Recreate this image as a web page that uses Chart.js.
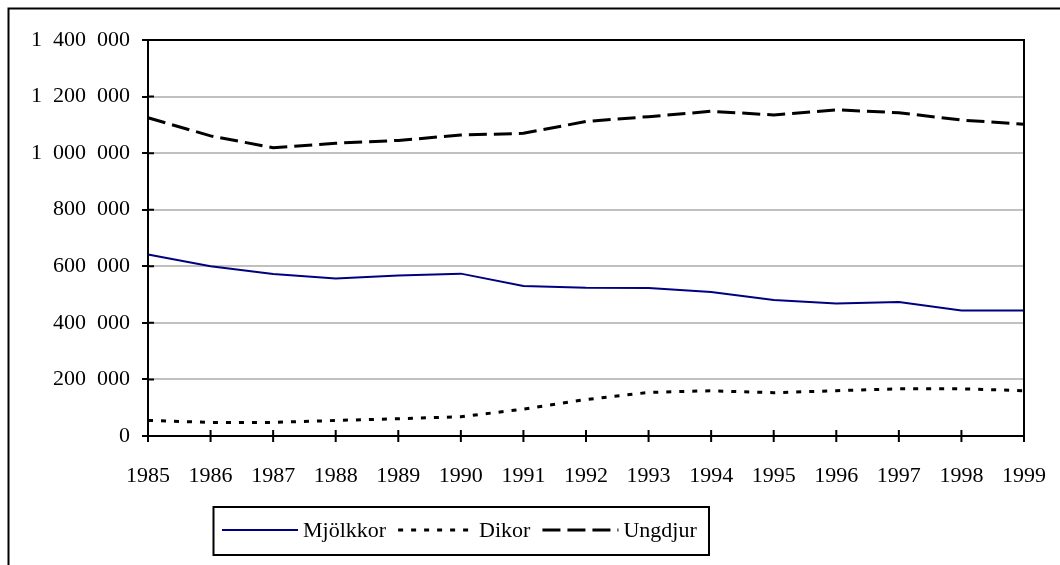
<!DOCTYPE html>
<html>
<head>
<meta charset="utf-8">
<script src="https://cdn.jsdelivr.net/npm/chart.js@4/dist/chart.umd.min.js"></script>
<style>
  html, body { margin: 0; padding: 0; background: #fff; }
  #wrap { width: 1060px; height: 565px; }
</style>
</head>
<body>
<div id="wrap"><canvas id="cattle" width="1060" height="565"></canvas></div>
<script>
const years = ['1985', '1986', '1987', '1988', '1989', '1990', '1991', '1992', '1993', '1994', '1995', '1996', '1997', '1998', '1999'];
const mjolkkor = [642000, 600000, 573000, 557000, 567000, 574000, 530000, 524000, 523000, 509000, 481000, 468000, 474000, 444000, 444000];
const dikor = [55000, 48000, 48000, 55000, 61000, 68000, 95000, 129000, 154000, 160000, 153000, 160000, 167000, 167000, 160000];
const ungdjur = [1125000, 1061000, 1019000, 1035000, 1045000, 1064000, 1070000, 1112000, 1129000, 1148000, 1135000, 1153000, 1143000, 1117000, 1102000];
const yMax = 1400000;
const yStep = 200000;

const serif = 'Liberation Serif, Times New Roman, serif';

// thousands separated by a figure space, as in the original
function spaced(v) {
  return String(v).replace(/\B(?=(\d{3})+(?!\d))/g, '\u2007');
}

// frame, crossing tick marks, outer border and the boxed legend
const frame = {
  id: 'frame',
  beforeDraw(chart) {
    const ctx = chart.ctx;
    ctx.save();
    ctx.fillStyle = '#fff';
    ctx.fillRect(0, 0, chart.width, chart.height);
    ctx.restore();
  },
  afterDraw(chart) {
    const { ctx, chartArea: a, scales: { x, y } } = chart;
    ctx.save();
    ctx.strokeStyle = '#000';
    ctx.lineWidth = 2;
    ctx.setLineDash([]);
    ctx.strokeRect(a.left, a.top, a.right - a.left, a.bottom - a.top);

    ctx.beginPath();
    x.ticks.forEach((t, i) => {
      const px = x.getPixelForTick(i);
      ctx.moveTo(px, a.bottom + 6);
      ctx.lineTo(px, a.bottom - 6);
    });
    y.ticks.forEach((t, i) => {
      const py = y.getPixelForTick(i);
      ctx.moveTo(a.left, py);
      ctx.lineTo(a.left + 6, py);
    });
    ctx.stroke();

    // outer chart border (runs off the right and bottom)
    ctx.beginPath();
    ctx.moveTo(8.5, chart.height);
    ctx.lineTo(8.5, 8.5);
    ctx.lineTo(chart.width, 8.5);
    ctx.stroke();

    // legend
    ctx.strokeRect(213.5, 507, 495.5, 48);
    ctx.font = '22px ' + serif;
    ctx.textBaseline = 'middle';
    ctx.fillStyle = '#000';
    let lx = 222;
    const ly = 530;
    chart.data.datasets.forEach(ds => {
      ctx.beginPath();
      ctx.strokeStyle = ds.borderColor;
      ctx.lineWidth = ds.borderWidth;
      ctx.setLineDash(ds.borderDash || []);
      ctx.moveTo(lx, ly);
      ctx.lineTo(lx + 76, ly);
      ctx.stroke();
      lx += 81;
      ctx.fillText(ds.label, lx, ly + 1);
      lx += ctx.measureText(ds.label).width + 12;
    });
    ctx.restore();
  }
};

new Chart(document.getElementById('cattle'), {
  type: 'line',
  data: {
    labels: years,
    datasets: [
      {
        label: 'Mjölkkor',
        data: mjolkkor,
        borderColor: '#000080',
        borderWidth: 2,
        pointRadius: 0,
        tension: 0
      },
      {
        label: 'Dikor',
        data: dikor,
        borderColor: '#000',
        borderWidth: 3,
        borderDash: [5, 8],
        pointRadius: 0,
        tension: 0
      },
      {
        label: 'Ungdjur',
        data: ungdjur,
        borderColor: '#000',
        borderWidth: 3,
        borderDash: [18, 7],
        pointRadius: 0,
        tension: 0
      }
    ]
  },
  options: {
    responsive: false,
    animation: false,
    layout: {
      padding: { left: 0, top: 40, right: 36, bottom: 0 }
    },
    plugins: {
      legend: { display: false },
      tooltip: { enabled: false }
    },
    scales: {
      x: {
        offset: false,
        afterFit: s => { s.height = 129; },
        border: { color: '#000', width: 2 },
        grid: {
          drawOnChartArea: false,
          tickColor: 'rgba(0,0,0,0)',
          tickLength: 13,
          tickWidth: 2
        },
        ticks: {
          color: '#000',
          maxRotation: 0,
          autoSkip: false,
          padding: 14,
          font: { family: serif, size: 22 }
        }
      },
      y: {
        min: 0,
        max: yMax,
        afterFit: s => { s.width = 148; },
        border: { color: '#000', width: 2 },
        grid: {
          color: '#c0c0c0',
          lineWidth: 2,
          tickColor: '#000',
          tickLength: 6,
          tickWidth: 2
        },
        ticks: {
          stepSize: yStep,
          color: '#000',
          padding: 12,
          font: { family: serif, size: 22 },
          callback: v => spaced(v)
        }
      }
    }
  },
  plugins: [frame]
});
</script>
</body>
</html>
